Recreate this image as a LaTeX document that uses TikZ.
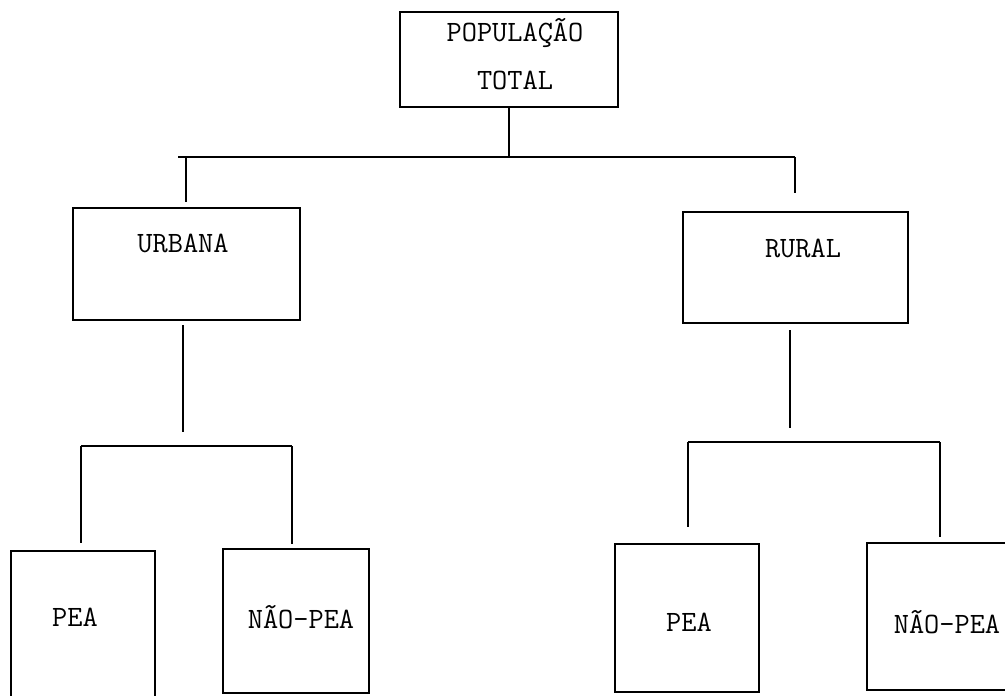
\documentclass[tikz,border=0pt]{standalone}
\usepackage{fontspec}
\begin{document}
\begin{tikzpicture}[x=1pt,y=-1pt,
  box/.style={draw, line width=1.6pt, inner sep=0pt},
  lbl/.style={font=\fontsize{29.5}{32}\selectfont\ttfamily, inner sep=0pt},
  conn/.style={line width=1.6pt}]
\useasboundingbox (0,0) rectangle (1005,696);
\clip (0,0) rectangle (1005,696);
% boxes
\node[box, minimum width=218pt, minimum height=95pt] (top) at (509,59.5) {};
\node[box, minimum width=227pt, minimum height=112pt] (urb) at (186.5,264) {};
\node[box, minimum width=225pt, minimum height=111pt] (rur) at (795.5,267.5) {};
\node[box, minimum width=144pt, minimum height=169pt] (peaL) at (83,635.5) {};
\node[box, minimum width=146pt, minimum height=144pt] (npeaL) at (296,621) {};
\node[box, minimum width=144pt, minimum height=148pt] (peaR) at (687,618) {};
\node[box, minimum width=163pt, minimum height=147pt] (npeaR) at (948.5,616.5) {};
% labels
\node[lbl] (t1) at (515,33) {POPULAÇÃO};
\node[lbl] (t2) at (515,80) {TOTAL};
\node[lbl] (tu) at (183,243) {URBANA};
\node[lbl] (tr) at (803,248) {RURAL};
\node[lbl] (tpl) at (75,617) {PEA};
\node[lbl] (tnl) at (301,617) {NÃO-PEA};
\node[lbl] (tpr) at (689,622) {PEA};
\node[lbl] (tnr) at (947,622) {NÃO-PEA};
% connector coordinates
\coordinate (barL) at (178,157);
\coordinate (barR) at (795,157);
\coordinate (dU) at (186,202);
\coordinate (dR) at (795,193);
\coordinate (uS) at (183,325);
\coordinate (uE) at (183,432);
\coordinate (rS) at (790,330);
\coordinate (rE) at (790,428);
\coordinate (b2L1) at (81,446);
\coordinate (b2L2) at (292,446);
\coordinate (e2L1) at (81,543);
\coordinate (e2L2) at (292,544);
\coordinate (b2R1) at (688,442);
\coordinate (b2R2) at (940,442);
\coordinate (e2R1) at (688,527);
\coordinate (e2R2) at (940,537);
% connectors
\draw[conn] (top.south) -- (top.south |- barL);
\draw[conn] (barL) -- (barR);
\draw[conn] (barL -| dU) -- (dU);
\draw[conn] (barR) -- (dR);
\draw[conn] (uS) -- (uE);
\draw[conn] (b2L1) -- (b2L2);
\draw[conn] (b2L1) -- (e2L1);
\draw[conn] (b2L2) -- (e2L2);
\draw[conn] (rS) -- (rE);
\draw[conn] (b2R1) -- (b2R2);
\draw[conn] (b2R1) -- (e2R1);
\draw[conn] (b2R2) -- (e2R2);
\end{tikzpicture}
\end{document}
